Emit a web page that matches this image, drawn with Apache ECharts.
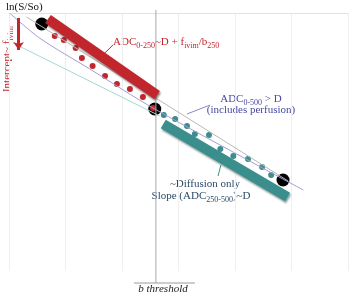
<!DOCTYPE html>
<html>
<head>
<meta charset="utf-8">
<script src="https://cdn.jsdelivr.net/npm/echarts@6/dist/echarts.min.js"></script>
<style>html,body{margin:0;padding:0;background:#fff}#c{width:352px;height:298px}</style>
</head>
<body>
<div id="c"></div>
<script>
// b-values (s/mm2) and ln(S/So) values read from the schematic
var blackB = [58, 258, 485];
var blackY = [-0.11, -0.96, -1.67];
var redB = [81, 97, 118, 129, 148, 170, 191, 214, 237, 255];
var redY = [-0.23, -0.27, -0.35, -0.45, -0.53, -0.63, -0.71, -0.76, -0.84, -0.95];
var tealB = [274, 294, 315, 329, 354, 374, 397, 423, 448, 464];
var tealY = [-1.02, -1.06, -1.13, -1.21, -1.22, -1.36, -1.43, -1.46, -1.54, -1.62];
var grayLineB = [31, 494];
var grayLineY = [-0.04, -1.68];
var purpleLineB = [1, 54, 143, 258, 521];
var purpleLineY = [0, -0.25, -0.56, -0.96, -1.77];
var cyanLineB = [7, 267];
var cyanLineY = [-0.30, -1.03];
var redBarB = [69, 262];
var redBarY = [-0.06, -0.82];
var tealBarB = [273, 493];
var tealBarY = [-1.11, -1.84];
var thresholdB = 260;
var thresholdY = [0.03, -2.70];
var underlineB = [221, 329];
var arrowB = 17;
var arrowY = [-0.05, -0.37];
var redLeaderB = [166, 184], redLeaderY = [-0.42, -0.32];
var blueLeaderB = [315, 356], blueLeaderY = [-1.01, -0.92];
var tealLeaderB = [375, 370], tealLeaderY = [-1.52, -1.63];

function pts(xs, ys) { return xs.map(function (x, i) { return [x, ys[i]]; }); }

var RED = '#c1262c', TEAL = '#3a8e8c', BLUE = '#4848a2', NAVY = '#2b4a68';
var SERIF = '"Liberation Serif", "DejaVu Serif", serif';

function lineSeries(data, color, width, extra) {
  var s = {
    type: 'line', data: data, symbol: 'none', silent: true, animation: false,
    lineStyle: { color: color, width: width }
  };
  for (var k in extra) s[k] = extra[k];
  return s;
}
function dots(data, color, size) {
  return {
    type: 'scatter', data: data, symbol: 'circle', symbolSize: size, silent: true,
    itemStyle: { color: color, opacity: 1 }
  };
}

var chart = echarts.init(document.getElementById('c'), null, { renderer: 'canvas' });
chart.setOption({
  animation: false,
  grid: { left: 9, right: 4, top: 13, bottom: 27 },
  xAxis: {
    type: 'value', min: 0, max: 600, interval: 100,
    axisLabel: { show: false }, axisTick: { show: false },
    axisLine: { lineStyle: { color: '#e2e2e2', width: 1 } },
    splitLine: { show: true, lineStyle: { color: '#efefef', width: 1 } }
  },
  yAxis: {
    type: 'value', min: -2.58, max: 0,
    axisLabel: { show: false }, axisTick: { show: false },
    axisLine: { show: false }, splitLine: { show: false }
  },
  series: [
    lineSeries(pts([thresholdB, thresholdB], thresholdY), '#a9a9a9', 1, { clip: false }),
    lineSeries(pts(underlineB, [thresholdY[1], thresholdY[1]]), '#9a9a9a', 1, { clip: false }),
    lineSeries(pts(cyanLineB, cyanLineY), '#a6d6d6', 1),
    lineSeries(pts(purpleLineB, purpleLineY), '#a29cd6', 1, { smooth: 0.3 }),
    lineSeries(pts(grayLineB, grayLineY), '#b8b8b8', 1),
    lineSeries(pts(redLeaderB, redLeaderY), RED, 1),
    lineSeries(pts(blueLeaderB, blueLeaderY), '#8888cc', 1),
    lineSeries(pts(tealLeaderB, tealLeaderY), TEAL, 1),
    dots(pts(blackB, blackY), '#000', 13),
    dots(pts(redB, redY), RED, 6),
    dots(pts(tealB, tealY), TEAL, 6),
    lineSeries(pts(redBarB, redBarY), RED, 10, {
      lineStyle: { color: RED, width: 10, cap: 'butt', shadowColor: 'rgba(60,0,0,0.55)', shadowOffsetX: 1, shadowOffsetY: 2, shadowBlur: 2 },
      markLine: {
        silent: true, symbol: ['none', 'arrow'], symbolSize: [8, 8],
        lineStyle: { color: RED, width: 3, type: 'solid' }, label: { show: false },
        data: [[{ coord: [arrowB, arrowY[0]] }, { coord: [arrowB, arrowY[1]] }]]
      }
    }),
    lineSeries(pts(tealBarB, tealBarY), TEAL, 10, {
      lineStyle: { color: TEAL, width: 10, cap: 'butt', shadowColor: 'rgba(0,40,40,0.45)', shadowOffsetX: 1, shadowOffsetY: 2, shadowBlur: 2 }
    })
  ],
  graphic: [
    { type: 'text', x: 6, y: 7, style: { text: 'ln(S/So)', font: '11px ' + SERIF, fill: '#111', align: 'left', verticalAlign: 'middle' } },
    {
      type: 'text', x: 113, y: 42,
      style: {
        text: '{n|ADC}{s|0-250}{n|~D + f}{s|ivim}{n|/b}{s|250}', fill: RED, align: 'left', verticalAlign: 'middle',
        rich: {
          n: { fontFamily: SERIF, fontSize: 11, lineHeight: 15, fill: RED },
          s: { fontFamily: SERIF, fontSize: 8, lineHeight: 8, verticalAlign: 'bottom', fill: RED }
        }
      }
    },
    {
      type: 'text', x: 251, y: 99,
      style: {
        text: '{n|ADC}{s|0-500}{n| > D}', fill: BLUE, align: 'center', verticalAlign: 'middle',
        rich: {
          n: { fontFamily: SERIF, fontSize: 11, lineHeight: 15, fill: BLUE },
          s: { fontFamily: SERIF, fontSize: 8, lineHeight: 8, verticalAlign: 'bottom', fill: BLUE }
        }
      }
    },
    { type: 'text', x: 251, y: 110, style: { text: '(includes perfusion)', font: '11px ' + SERIF, fill: BLUE, align: 'center', verticalAlign: 'middle' } },
    { type: 'text', x: 205, y: 184, style: { text: '~Diffusion only', font: '11px ' + SERIF, fill: NAVY, align: 'center', verticalAlign: 'middle' } },
    {
      type: 'text', x: 201, y: 196,
      style: {
        text: '{n|Slope (ADC}{s|250-500}{n|)~D}', fill: NAVY, align: 'center', verticalAlign: 'middle',
        rich: {
          n: { fontFamily: SERIF, fontSize: 11, lineHeight: 15, fill: NAVY },
          s: { fontFamily: SERIF, fontSize: 8, lineHeight: 8, verticalAlign: 'bottom', fill: NAVY }
        }
      }
    },
    {
      type: 'text', x: 7, y: 59, rotation: Math.PI / 2,
      style: {
        text: '{n|Intercept~ f}{s|ivim}', fill: RED, align: 'center', verticalAlign: 'middle',
        rich: {
          n: { fontFamily: SERIF, fontSize: 11, lineHeight: 15, fill: RED },
          s: { fontFamily: SERIF, fontSize: 8, lineHeight: 8, verticalAlign: 'bottom', fill: RED }
        }
      }
    },
    { type: 'text', x: 163, y: 289, style: { text: 'b threshold', font: 'italic 11px ' + SERIF, fill: '#222', align: 'center', verticalAlign: 'middle' } }
  ]
});
</script>
</body>
</html>
